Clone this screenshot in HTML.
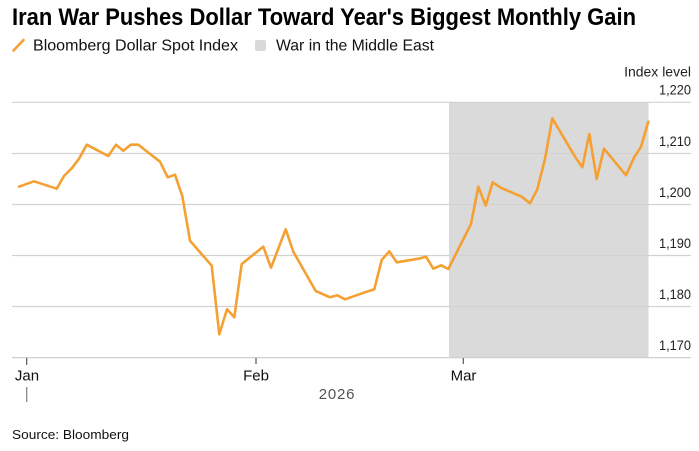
<!DOCTYPE html>
<html>
<head>
<meta charset="utf-8">
<style>
html,body{margin:0;padding:0;background:#fff;}
svg{display:block;}
text{font-family:"Liberation Sans",Arial,sans-serif;}
</style>
</head>
<body>
<svg width="699" height="451" viewBox="0 0 699 451" xmlns="http://www.w3.org/2000/svg">
  <rect width="699" height="451" fill="#fff"/>
  <!-- Title -->
  <text x="12" y="25" font-size="24" font-weight="bold" fill="#000" textLength="624" lengthAdjust="spacingAndGlyphs">Iran War Pushes Dollar Toward Year's Biggest Monthly Gain</text>
  <!-- Legend -->
  <line x1="13.5" y1="50.5" x2="23.5" y2="40" stroke="#f5a033" stroke-width="2.6" stroke-linecap="round"/>
  <text x="33" y="50.5" font-size="16" fill="#111" textLength="205" lengthAdjust="spacingAndGlyphs">Bloomberg Dollar Spot Index</text>
  <rect x="255" y="40" width="11" height="11" rx="2" fill="#d9d9d9"/>
  <text x="276" y="50.5" font-size="16" fill="#111" textLength="158" lengthAdjust="spacingAndGlyphs">War in the Middle East</text>

  <!-- Shaded region -->
  <rect x="449" y="102" width="199.5" height="255.5" fill="#dadada"/>

  <!-- Gridlines -->
  <g stroke="#d2d2d2" stroke-width="1.2">
    <line x1="12" y1="102.3" x2="691" y2="102.3"/>
    <line x1="12" y1="153.5" x2="691" y2="153.5"/>
    <line x1="12" y1="204.5" x2="691" y2="204.5"/>
    <line x1="12" y1="255.5" x2="691" y2="255.5"/>
    <line x1="12" y1="306.5" x2="691" y2="306.5"/>
  </g>
  <line x1="12" y1="357.6" x2="691" y2="357.6" stroke="#cfcfcf" stroke-width="1.3"/>

  <!-- Y labels -->
  <g font-size="14" fill="#222" text-anchor="end">
    <text x="691" y="76.7">Index level</text>
    <text x="691" y="94.3" textLength="32" lengthAdjust="spacingAndGlyphs">1,220</text>
    <text x="691" y="146" textLength="32" lengthAdjust="spacingAndGlyphs">1,210</text>
    <text x="691" y="197" textLength="32" lengthAdjust="spacingAndGlyphs">1,200</text>
    <text x="691" y="248" textLength="32" lengthAdjust="spacingAndGlyphs">1,190</text>
    <text x="691" y="299" textLength="32" lengthAdjust="spacingAndGlyphs">1,180</text>
    <text x="691" y="350" textLength="32" lengthAdjust="spacingAndGlyphs">1,170</text>
  </g>

  <!-- X ticks -->
  <g stroke="#555" stroke-width="1.2">
    <line x1="26.7" y1="358" x2="26.7" y2="365"/>
    <line x1="256" y1="358" x2="256" y2="364"/>
    <line x1="463.3" y1="358" x2="463.3" y2="364"/>
  </g>
  <line x1="26.7" y1="387" x2="26.7" y2="402" stroke="#888" stroke-width="1.3"/>
  <g font-size="15" fill="#111" text-anchor="middle">
    <text x="27" y="380.5">Jan</text>
    <text x="256" y="380.5">Feb</text>
    <text x="463.5" y="380.5">Mar</text>
  </g>
  <text x="337" y="399" font-size="15" fill="#555" text-anchor="middle" letter-spacing="0.8">2026</text>

  <!-- Series -->
  <polyline fill="none" stroke="#f5a033" stroke-width="2.6" stroke-linejoin="round" stroke-linecap="round"
    points="19,186.7 34,181.3 56.7,188.7 64,176 71.7,168.3 79.3,158.3 86.7,144.7 108.3,156 116,144.7 123.3,150.7 130.7,144.7 138.3,144.7 145,150 160,161.7 167.7,177.3 175,174.7 182.3,196 190,240.7 211.7,265.7 219.3,334.3 227,309.3 234.3,317.3 241.7,264 263.3,246.7 271,267.7 285.7,229.3 293.3,251.7 315.7,291 330,297.3 337.3,295.3 345,299.3 366.7,291.7 374.3,289.3 381.7,260 389.3,251.3 396.7,262.3 418.3,258.7 426,256.7 433.3,268.7 441,265.3 448.3,269 471,224 478.3,186.7 485.7,205.7 492.7,182.3 500.7,187.7 521.7,196.7 530,203.3 537.3,189.3 545,159 552.3,118.3 575,156.7 582.3,167.3 589.3,134 596.7,179 604,148.7 626,175.3 634,157.7 641,146.7 648.3,121.7"/>

  <!-- Source -->
  <text x="12" y="439" font-size="13" fill="#111" textLength="117" lengthAdjust="spacingAndGlyphs">Source: Bloomberg</text>
</svg>
</body>
</html>
